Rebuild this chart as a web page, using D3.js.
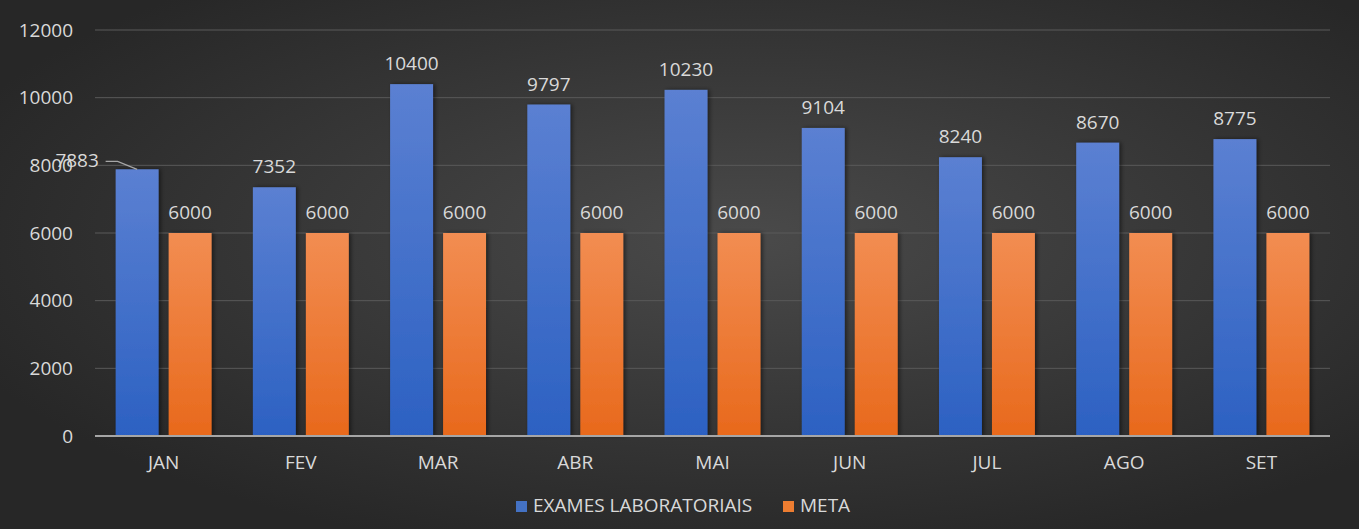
<!DOCTYPE html>
<html><head><meta charset="utf-8">
<script src="https://cdn.jsdelivr.net/npm/d3@7"></script>
<style>body{margin:0;background:#2a2a2a;overflow:hidden}svg{display:block}</style>
</head><body><svg id="c" width="1359" height="529"></svg>
<script>
const categories = ["JAN","FEV","MAR","ABR","MAI","JUN","JUL","AGO","SET"];
const exames = [7883,7352,10400,9797,10230,9104,8240,8670,8775];
const meta = [6000,6000,6000,6000,6000,6000,6000,6000,6000];
const yTicks = [0,2000,4000,6000,8000,10000,12000];
const seriesNames = ["EXAMES LABORATORIAIS","META"];

(function(){
const W=1359,H=529, mL=95, mR=1330, mT=30, mB=436;
const svg=d3.select("#c");
const defs=svg.append("defs");
const bg=defs.append("radialGradient").attr("id","bg").attr("cx","55%").attr("cy","45%").attr("r","62%");
bg.append("stop").attr("offset","0%").attr("stop-color","#4a4a4a");
bg.append("stop").attr("offset","100%").attr("stop-color","#272727");
const gb=defs.append("linearGradient").attr("id","gb").attr("x1",0).attr("y1",0).attr("x2",0).attr("y2",1);
gb.append("stop").attr("offset","0%").attr("stop-color","#5b80d2");
gb.append("stop").attr("offset","100%").attr("stop-color","#2c61c2");
const go=defs.append("linearGradient").attr("id","go").attr("x1",0).attr("y1",0).attr("x2",0).attr("y2",1);
go.append("stop").attr("offset","0%").attr("stop-color","#f28d52");
go.append("stop").attr("offset","100%").attr("stop-color","#e8691c");
const sh=defs.append("filter").attr("id","sh").attr("x","-20%").attr("y","-10%").attr("width","140%").attr("height","120%");
sh.append("feDropShadow").attr("dx",2).attr("dy",0).attr("stdDeviation",2).attr("flood-color","#000").attr("flood-opacity",0.5);

svg.append("rect").attr("width",W).attr("height",H).attr("fill","url(#bg)");

const x=d3.scaleBand().domain(categories).range([mL,mR]).paddingInner(0).paddingOuter(0);
const y=d3.scaleLinear().domain([0,12000]).range([mB,mT]);
const font="'Open Sans', 'Noto Sans', sans-serif";
const txt="#d9d9d9";

svg.append("g").selectAll("line").data(yTicks.filter(d=>d>0)).join("line")
  .attr("x1",mL).attr("x2",mR).attr("y1",d=>y(d)).attr("y2",d=>y(d))
  .attr("stroke","#5a5a5a").attr("stroke-width",1);

const yAxis=d3.axisLeft(y).tickValues(yTicks).tickSize(0).tickPadding(22).tickFormat(d3.format("d"));
const yg=svg.append("g").attr("transform",`translate(${mL},0)`).call(yAxis);
yg.select(".domain").remove();
yg.selectAll("text").attr("fill",txt).attr("font-family",font).attr("font-size",19);

const bw=x.bandwidth();
const xs=d3.scaleBand().domain([0,1]).range([0,bw]).paddingInner(0.19).paddingOuter(0.39);
const series=[exames,meta];
const fills=["url(#gb)","url(#go)"];
series.forEach((vals,s)=>{
  svg.append("g").selectAll("rect").data(vals).join("rect")
    .attr("x",(d,i)=>x(categories[i])+xs(s)).attr("width",xs.bandwidth())
    .attr("y",d=>y(d)).attr("height",d=>y(0)-y(d))
    .attr("fill",fills[s]).attr("filter","url(#sh)");
});

svg.append("line").attr("x1",mL).attr("x2",mR).attr("y1",y(0)).attr("y2",y(0))
  .attr("stroke","#a6a6a6").attr("stroke-width",2);

const xAxis=d3.axisBottom(x).tickSize(0).tickPadding(19.5);
const xg=svg.append("g").attr("transform",`translate(0,${y(0)})`).call(xAxis);
xg.select(".domain").remove();
xg.selectAll("text").attr("fill",txt).attr("font-family",font).attr("font-size",19);

series.forEach((vals,s)=>{
  const g=svg.append("g");
  vals.forEach((d,i)=>{
    let cx=x(categories[i])+xs(s)+xs.bandwidth()/2, cy=y(d)-14;
    if(s===0&&i===0){
      const by=y(d);
      g.append("polyline").attr("points",`${cx-31.5},${by-8} ${cx-19.5},${by-8} ${cx},${by}`)
        .attr("fill","none").attr("stroke","#a6a6a6").attr("stroke-width",1.3);
      cx=cx-60; cy=by-2;
    }
    g.append("text").attr("x",cx).attr("y",cy).attr("text-anchor","middle")
      .attr("fill",txt).attr("font-family",font).attr("font-size",19).text(d);
  });
});

const lg=svg.append("g").attr("transform","translate(516,501)");
const lx=[0,267];
seriesNames.forEach((n,i)=>{
  lg.append("rect").attr("x",lx[i]).attr("y",0).attr("width",11).attr("height",11).attr("fill",i?"#ed7d31":"#4472c4");
  lg.append("text").attr("x",lx[i]+17).attr("y",11).attr("fill",txt).attr("font-family",font).attr("font-size",19).text(n);
});
})();
</script></body></html>
